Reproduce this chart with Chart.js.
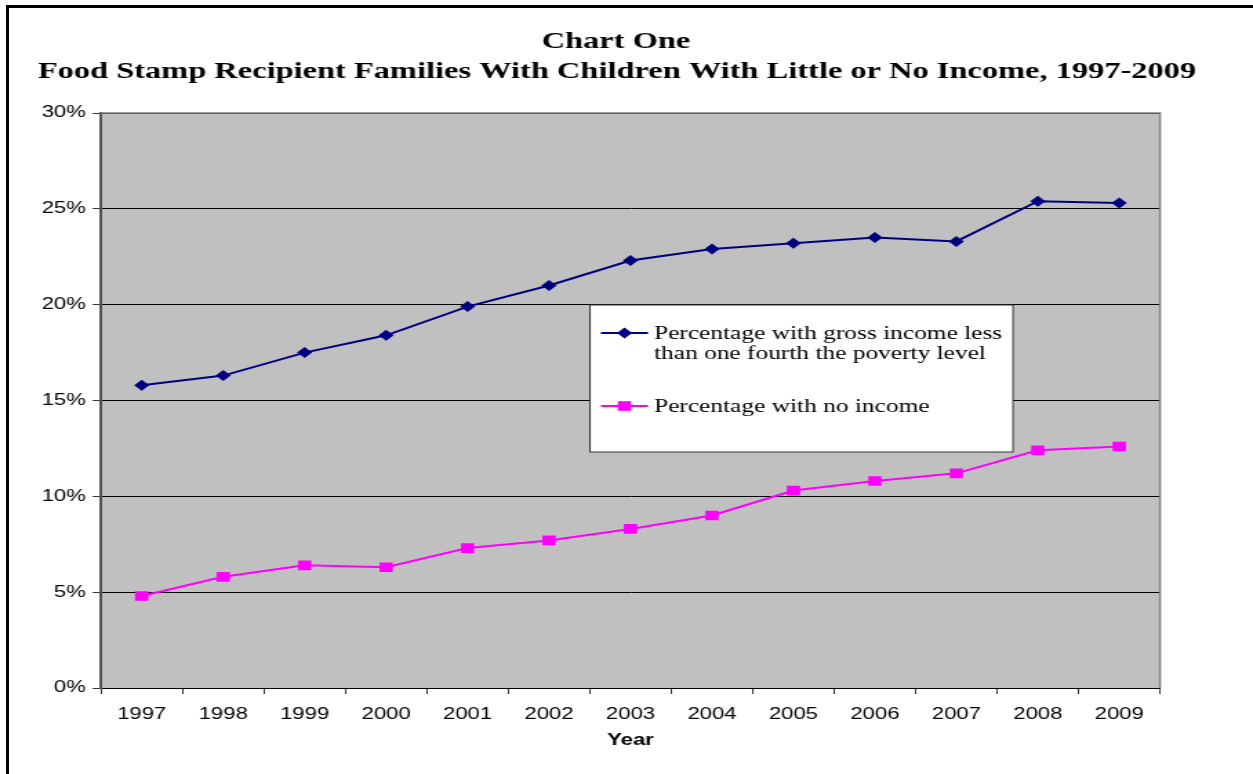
<!DOCTYPE html>
<html>
<head>
<meta charset="utf-8">
<script src="https://cdn.jsdelivr.net/npm/chart.js@4.4.0/dist/chart.umd.min.js"></script>
<style>
  html, body { margin: 0; padding: 0; background: #fff; overflow: hidden; }
  #wrap { position: relative; width: 1253px; height: 774px; }
  #c { position: absolute; left: 0; top: 0; }
  #frame { position: absolute; left: 6px; top: 5px; width: 1300px; height: 800px;
           border-top: 3px solid #000; border-left: 3px solid #000; pointer-events: none; }
</style>
</head>
<body>
<div id="wrap">
  <canvas id="c" width="908" height="774" style="width:1253px;height:774px"></canvas>
  <div id="frame"></div>
</div>
<script>
// data
const years = ['1997', '1998', '1999', '2000', '2001', '2002', '2003', '2004', '2005', '2006', '2007', '2008', '2009'];
const lowIncome = [15.8, 16.3, 17.5, 18.4, 19.9, 21.0, 22.3, 22.9, 23.2, 23.5, 23.3, 25.4, 25.3];
const noIncome = [4.8, 5.8, 6.4, 6.3, 7.3, 7.7, 8.3, 9.0, 10.3, 10.8, 11.2, 12.4, 12.6];
const legendLines = [
    ['Percentage with gross income less', 'than one fourth the poverty level'],
    ['Percentage with no income']
];
const titleLines = ['Chart One', 'Food Stamp Recipient Families With Children With Little or No Income, 1997-2009'];
const axisTitle = 'Year';

// the original is stretched sideways, so draw narrow and let css widen it
const SX = 1253 / 908;
const px = (x) => x / SX;

const serif = '"Liberation Serif", "Times New Roman", serif';
const sans = '"Liberation Sans", Arial, sans-serif';

function marker(ctx, style, r, x, y, color) {
    ctx.save();
    ctx.fillStyle = color;
    ctx.beginPath();
    if (style === 'rectRot') {
        ctx.moveTo(x, y - r); ctx.lineTo(x + r, y); ctx.lineTo(x, y + r); ctx.lineTo(x - r, y);
    } else {
        const s = r * Math.SQRT1_2;
        ctx.rect(x - s, y - s, s * 2, s * 2);
    }
    ctx.closePath();
    ctx.fill();
    ctx.restore();
}

const extras = {
    id: 'extras',
    beforeDraw(chart) {
        const {ctx, chartArea: a} = chart;
        ctx.save();
        ctx.fillStyle = '#c0c0c0';
        ctx.fillRect(a.left, a.top, a.right - a.left, a.bottom - a.top);
        ctx.restore();
    },
    beforeDatasetsDraw(chart) {
        const {ctx, chartArea: a} = chart;
        ctx.save();
        ctx.strokeStyle = '#808080';
        ctx.lineWidth = 1.5;
        ctx.beginPath();
        ctx.moveTo(a.left, a.top); ctx.lineTo(a.right, a.top); ctx.lineTo(a.right, a.bottom);
        ctx.stroke();
        ctx.restore();
    },
    afterDraw(chart) {
        const {ctx, chartArea: a} = chart;
        ctx.save();
        // titles
        ctx.fillStyle = '#000';
        ctx.textAlign = 'center';
        ctx.textBaseline = 'middle';
        ctx.font = 'bold 23.5px ' + serif;
        ctx.fillText(titleLines[0], px(616), 42);
        ctx.fillText(titleLines[1], px(617), 72);
        // axis title
        ctx.font = 'bold 16px ' + sans;
        ctx.fillText(axisTitle, (a.left + a.right) / 2, 741);

        // legend box
        const bx = px(590), by = 305, bw = px(1013) - px(590), bh = 147;
        ctx.fillStyle = '#fff';
        ctx.fillRect(bx, by, bw, bh);
        ctx.strokeStyle = '#333';
        ctx.lineWidth = 1;
        ctx.strokeRect(bx, by, bw, bh);

        const rows = [333, 406];
        chart.data.datasets.forEach((ds, i) => {
            const y = rows[i];
            ctx.strokeStyle = ds.borderColor;
            ctx.lineWidth = ds.borderWidth;
            ctx.beginPath();
            ctx.moveTo(px(601), y); ctx.lineTo(px(648), y);
            ctx.stroke();
            marker(ctx, ds.pointStyle, ds.pointRadius, px(624.5), y, ds.pointBackgroundColor);
            ctx.fillStyle = '#000';
            ctx.textAlign = 'left';
            ctx.textBaseline = 'middle';
            ctx.font = '18.4px ' + serif;
            legendLines[i].forEach((t, j) => ctx.fillText(t, px(654), y + 1 + j * 20));
        });
        ctx.restore();
    }
};

new Chart(document.getElementById('c'), {
    type: 'line',
    data: {
        labels: years,
        datasets: [
            {
                label: legendLines[0].join(' '),
                data: lowIncome,
                borderColor: '#000080',
                borderWidth: 2,
                pointStyle: 'rectRot',
                pointRadius: 5.5,
                pointBackgroundColor: '#000080',
                pointBorderColor: '#000080',
                pointBorderWidth: 0,
                tension: 0
            },
            {
                label: legendLines[1].join(' '),
                data: noIncome,
                borderColor: '#ff00ff',
                borderWidth: 2,
                pointStyle: 'rect',
                pointRadius: 6.8,
                pointBackgroundColor: '#ff00ff',
                pointBorderColor: '#ff00ff',
                pointBorderWidth: 0,
                tension: 0
            }
        ]
    },
    options: {
        responsive: false,
        animation: false,
        devicePixelRatio: 1,
        layout: { padding: { top: 113, right: 908 - px(1160), left: 0, bottom: 0 } },
        plugins: { legend: { display: false }, title: { display: false }, tooltip: { enabled: false } },
        scales: {
            x: {
                offset: true,
                grid: { offset: true, drawOnChartArea: false, tickLength: 6, color: '#000', tickColor: '#333' },
                border: { color: '#000', width: 1 },
                ticks: { color: '#000', font: { family: sans, size: 16 }, padding: 11, maxRotation: 0 },
                afterFit: (s) => { s.height = 774 - 688; }
            },
            y: {
                min: 0,
                max: 30,
                grid: { color: '#000', tickLength: 6, tickColor: '#333' },
                border: { color: '#555', width: 2 },
                ticks: {
                    stepSize: 5,
                    color: '#000',
                    font: { family: sans, size: 16 },
                    padding: 5,
                    callback: (v) => v + '%'
                },
                afterFit: (s) => { s.width = px(101); }
            }
        }
    },
    plugins: [extras]
});
</script>
</body>
</html>
